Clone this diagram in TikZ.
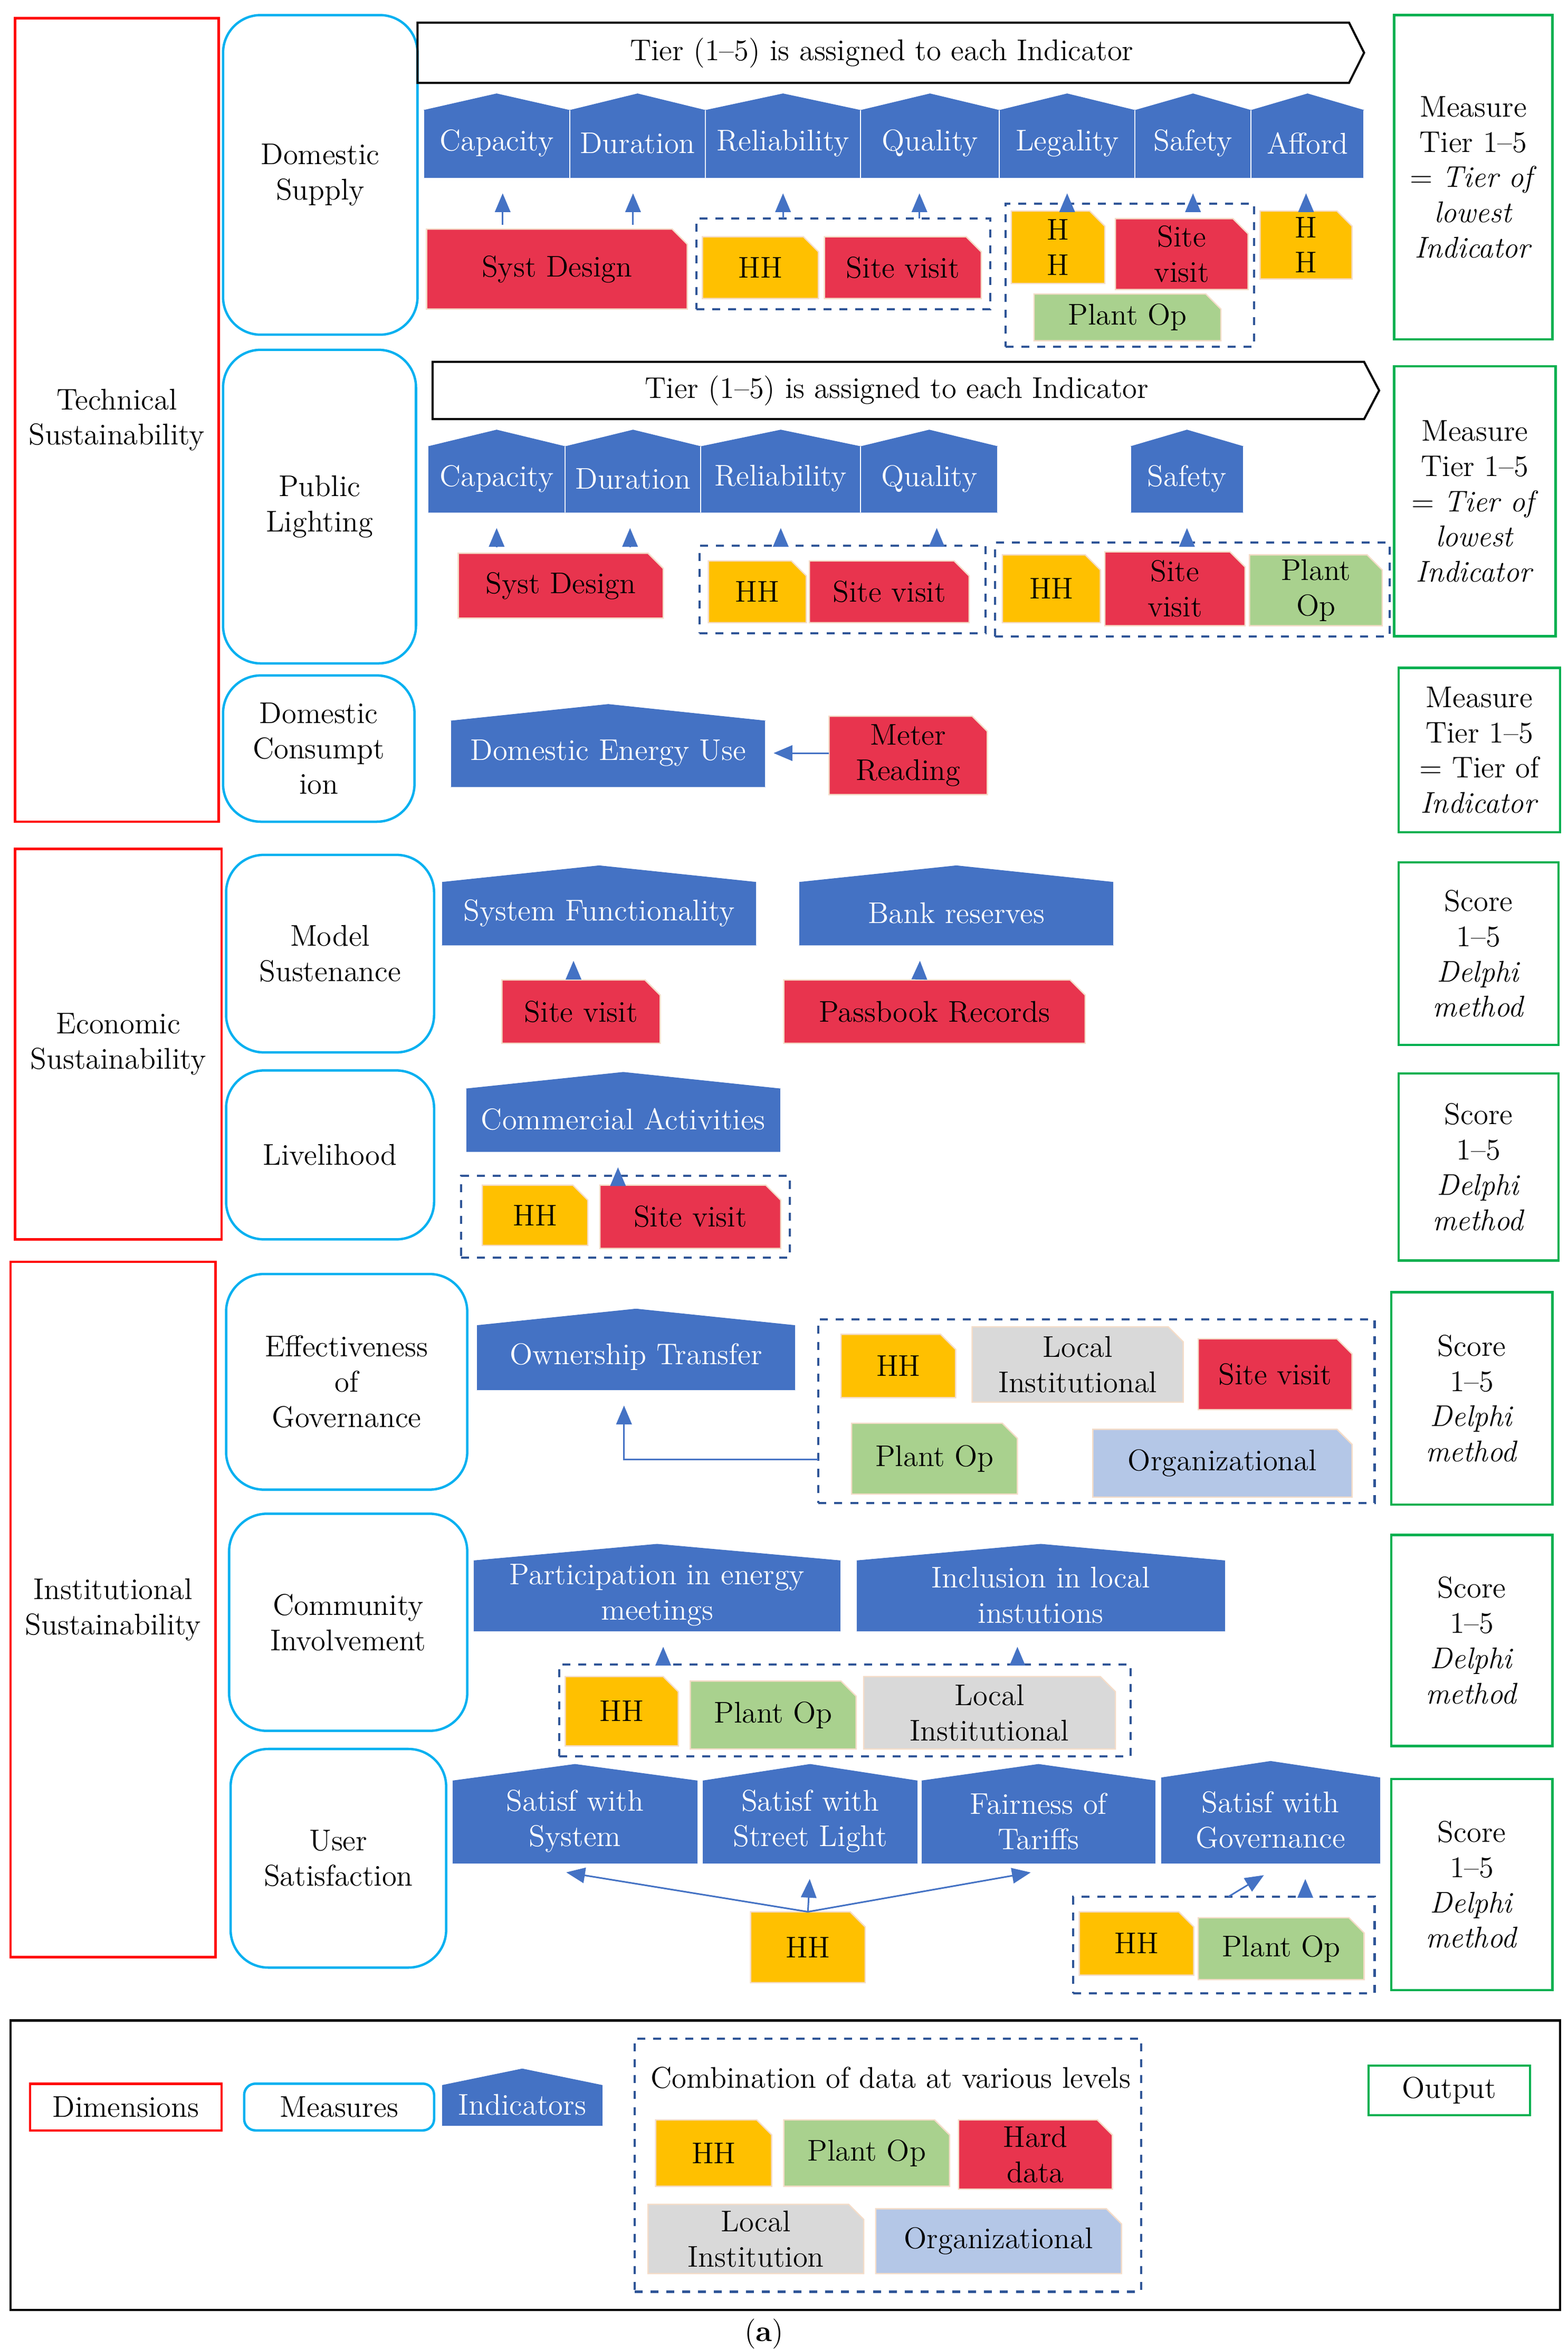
\documentclass[tikz,border=0pt]{standalone}
\usepackage{tikz}
\usetikzlibrary{arrows,calc}

\definecolor{indblue}{HTML}{4472C4}
\definecolor{hhy}{HTML}{FFC000}
\definecolor{svred}{HTML}{E8344E}
\definecolor{opgreen}{HTML}{A9D18E}
\definecolor{ligray}{HTML}{D9D9D9}
\definecolor{orgblue}{HTML}{B4C7E7}
\definecolor{mcyan}{HTML}{00B0F0}
\definecolor{outgreen}{HTML}{00B050}
\definecolor{grpblue}{HTML}{2F5597}
\definecolor{tagedge}{HTML}{F4DCC8}

\newcommand{\dfont}{\fontsize{11.3}{13.3}\selectfont}

\tikzset{
  txt/.style={inner sep=0pt, outer sep=0pt, align=center, font=\dfont},
  indtext/.style={txt, text=white},
  dim/.style={txt, draw=red, line width=0.9pt},
  meas/.style={txt, draw=mcyan, line width=0.9pt, rounded corners=0.5cm},
  outp/.style={txt, draw=outgreen, line width=0.9pt},
  grp/.style={draw=grpblue, dashed, line width=0.8pt, inner sep=0pt, outer sep=0pt},
  arr/.style={-triangle 45, draw=indblue, line width=0.6pt, shorten >=3pt}
}

% box node: style, name, x1, y1, x2, y2, text
\newcommand{\bx}[7]{%
  \node[#1, minimum width={(#5-#3)*0.02cm}, minimum height={(#6-#4)*0.02cm}]
    (#2) at ({(#3+#5)/2},{(#4+#6)/2}) {#7};}
% indicator: name, x1, y1, x2, y2, text
\newcommand{\indic}[6]{%
  \fill[indblue] (#2,#5) -- (#2,#3+11) -- ({(#2+#4)/2},#3) -- (#4,#3+11) -- (#4,#5) -- cycle;
  \draw[white, line width=0.4pt] (#2,#5) -- (#2,#3+11) (#4,#3+11) -- (#4,#5);
  \node[indtext, minimum width={(#4-#2)*0.02cm}, minimum height={(#5-#3)*0.02cm}]
    (#1) at ({(#2+#4)/2},{(#3+#5)/2+5}) {#6};}
% data tag: name, colour, x1, y1, x2, y2, text
\newcommand{\dtag}[7]{%
  \filldraw[fill=#2, draw=tagedge, line width=0.5pt] (#3,#4) -- (#5-10,#4) -- (#5,#4+10) -- (#5,#6) -- (#3,#6) -- cycle;
  \node[txt, minimum width={(#5-#3)*0.02cm}, minimum height={(#6-#4)*0.02cm}]
    (#1) at ({(#3+#5)/2},{(#4+#6)/2}) {#7};}
% dashed group: name, x1, y1, x2, y2
\newcommand{\grpbox}[5]{%
  \node[grp, minimum width={(#4-#2)*0.02cm}, minimum height={(#5-#3)*0.02cm}]
    (#1) at ({(#2+#4)/2},{(#3+#5)/2}) {};}

\begin{document}
\begin{tikzpicture}[x=0.02cm, y=-0.02cm]
\useasboundingbox (0,0) rectangle (1040,1558);

%% Technical
\bx{dim}{tech}{10}{12}{145}{545}{Technical\\Sustainability}
\bx{meas}{dsup}{148}{10}{277}{222}{Domestic\\Supply}
\draw[line width=0.8pt] (277,15) -- (895,15) -- (905,35) -- (895,55) -- (277,55) -- cycle;
\node[txt] (ban1) at (585,35) {Tier (1--5) is assigned to each Indicator};
\indic{cap1}{281}{62}{378}{118}{Capacity}
\indic{dur1}{378}{62}{468}{118}{Duration}
\indic{rel1}{468}{62}{571}{118}{Reliability}
\indic{qua1}{571}{62}{663}{118}{Quality}
\indic{leg1}{663}{62}{753}{118}{Legality}
\indic{saf1}{753}{62}{830}{118}{Safety}
\indic{aff1}{830}{62}{905}{118}{Afford}
\dtag{sd1}{svred}{283}{152}{456}{205}{Syst Design}
\grpbox{ga}{462}{145}{657}{205}
\dtag{hha}{hhy}{466}{157}{543}{198}{HH}
\dtag{sva}{svred}{547}{157}{651}{198}{Site visit}
\grpbox{gb}{667}{135}{832}{230}
\dtag{hhb}{hhy}{671}{140}{733}{188}{H\\H}
\dtag{svb}{svred}{740}{145}{828}{192}{Site\\visit}
\dtag{opb}{opgreen}{686}{195}{810}{226}{Plant Op}
\dtag{hhc}{hhy}{836}{140}{897}{185}{H\\H}
\draw[arr] ($(sd1.north -| cap1)+(4,-3)$) -- ($(cap1.south)+(4,0)$);
\draw[arr] ($(sd1.north -| dur1)+(-3,-3)$) -- ($(dur1.south)+(-3,0)$);
\draw[arr] (ga.north -| rel1) -- (rel1.south);
\draw[arr] ($(ga.north -| qua1)+(-7,0)$) -- ($(qua1.south)+(-7,0)$);
\draw[arr] (gb.north -| leg1) -- (leg1.south);
\draw[arr] (gb.north -| saf1) -- (saf1.south);
\draw[arr] (hhc.north) -- (hhc.north |- aff1.south);
\bx{outp}{o1}{925}{10}{1030}{225}{Measure\\Tier 1--5\\= \textit{Tier of}\\\textit{lowest}\\\textit{Indicator}}

\bx{meas}{plig}{148}{232}{276}{440}{Public\\Lighting}
\draw[line width=0.8pt] (287,240) -- (905,240) -- (915,259) -- (905,278) -- (287,278) -- cycle;
\node[txt] (ban2) at (595,259) {Tier (1--5) is assigned to each Indicator};
\indic{cap2}{284}{285}{375}{340}{Capacity}
\indic{dur2}{375}{285}{465}{340}{Duration}
\indic{rel2}{465}{285}{571}{340}{Reliability}
\indic{qua2}{571}{285}{662}{340}{Quality}
\indic{saf2}{750}{285}{825}{340}{Safety}
\dtag{sd2}{svred}{304}{367}{440}{410}{Syst Design}
\grpbox{gc}{464}{362}{654}{420}
\dtag{hhd}{hhy}{470}{372}{535}{413}{HH}
\dtag{svd}{svred}{537}{372}{643}{413}{Site visit}
\grpbox{gd}{660}{360}{922}{422}
\dtag{hhe}{hhy}{665}{368}{730}{413}{HH}
\dtag{sve}{svred}{733}{366}{826}{415}{Site\\visit}
\dtag{ope}{opgreen}{829}{368}{917}{415}{Plant\\Op}
\draw[arr] ($(sd2.north -| cap2)+(0,-4)$) -- (cap2.south);
\draw[arr] ($(sd2.north -| dur2)+(-2,-4)$) -- ($(dur2.south)+(-2,0)$);
\draw[arr] (gc.north -| rel2) -- (rel2.south);
\draw[arr] ($(gc.north -| qua2)+(5,0)$) -- ($(qua2.south)+(5,0)$);
\draw[arr] (gd.north -| saf2) -- (saf2.south);
\bx{outp}{o2}{925}{243}{1032}{422}{Measure\\Tier 1--5\\= \textit{Tier of}\\\textit{lowest}\\\textit{Indicator}}

\bx{meas}{dcon}{148}{448}{275}{545}{Domestic\\Consumpt\\ion}
\indic{deu}{299}{467}{508}{522}{Domestic Energy Use}
\dtag{mr}{svred}{550}{475}{655}{527}{Meter\\Reading}
\draw[arr] (mr.west |- deu) -- (deu.east);
\bx{outp}{o3}{928}{443}{1035}{552}{Measure\\Tier 1--5\\= Tier of\\\textit{Indicator}}

%% Economic
\bx{dim}{econ}{10}{563}{147}{822}{Economic\\Sustainability}
\bx{meas}{msus}{150}{567}{288}{698}{Model\\Sustenance}
\indic{sysf}{293}{574}{502}{627}{System Functionality}
\dtag{svf}{svred}{333}{650}{438}{692}{Site visit}
\indic{bank}{530}{574}{739}{627}{Bank reserves}
\dtag{pbr}{svred}{520}{650}{720}{692}{Passbook Records}
\draw[arr] ($(svf.north)+(-5,-2)$) -- ($(sysf.south)+(-17,0)$);
\draw[arr] ($(pbr.north)+(-10,-2)$) -- ($(bank.south)+(-24,0)$);
\bx{outp}{o4}{928}{572}{1034}{693}{Score\\1--5\\\textit{Delphi}\\\textit{method}}
\bx{meas}{live}{150}{710}{288}{822}{Livelihood}
\indic{comm}{309}{711}{518}{764}{Commercial Activities}
\grpbox{gf}{306}{780}{524}{834}
\dtag{hhf}{hhy}{320}{786}{390}{826}{HH}
\dtag{svg}{svred}{398}{786}{518}{828}{Site visit}
\draw[arr] (gf.north -| 410,0) -- (comm.south -| 410,0);
\bx{outp}{o5}{928}{712}{1034}{836}{Score\\1--5\\\textit{Delphi}\\\textit{method}}

%% Institutional
\bx{dim}{inst}{7}{837}{143}{1298}{Institutional\\Sustainability}
\bx{meas}{effg}{150}{845}{310}{988}{Effectiveness\\of\\Governance}
\indic{own}{316}{868}{528}{922}{Ownership Transfer}
\grpbox{gg}{543}{875}{912}{997}
\dtag{hhg}{hhy}{558}{885}{634}{927}{HH}
\dtag{lig}{ligray}{645}{880}{785}{930}{Local\\Institutional}
\dtag{svh}{svred}{795}{888}{897}{935}{Site visit}
\dtag{opg}{opgreen}{565}{944}{675}{991}{Plant Op}
\dtag{org}{orgblue}{725}{948}{897}{993}{Organizational}
\draw[arr] ($(gg.west)+(0,32)$) -| ($(own.south)+(-8,0)$);
\bx{outp}{o6}{923}{857}{1030}{998}{Score\\1--5\\\textit{Delphi}\\\textit{method}}

\bx{meas}{cinv}{152}{1004}{310}{1148}{Community\\Involvement}
\indic{part}{314}{1024}{558}{1082}{Participation in energy\\meetings}
\indic{incl}{568}{1024}{813}{1082}{Inclusion in local\\instutions}
\grpbox{gh}{371}{1104}{750}{1165}
\dtag{hhh}{hhy}{375}{1112}{450}{1158}{HH}
\dtag{oph}{opgreen}{458}{1115}{568}{1160}{Plant Op}
\dtag{lih}{ligray}{573}{1112}{740}{1160}{Local\\Institutional}
\draw[arr] (gh.north -| 440,0) -- (part.south -| 440,0);
\draw[arr] (gh.north -| 675,0) -- (incl.south -| 675,0);
\bx{outp}{o7}{923}{1018}{1030}{1158}{Score\\1--5\\\textit{Delphi}\\\textit{method}}

\bx{meas}{usat}{153}{1160}{296}{1305}{User\\Satisfaction}
\indic{sws}{300}{1170}{463}{1236}{Satisf with\\System}
\indic{ssl}{466}{1170}{609}{1236}{Satisf with\\Street Light}
\indic{fot}{611}{1170}{767}{1236}{Fairness of\\Tariffs}
\indic{sgv}{770}{1168}{916}{1236}{Satisf with\\Governance}
\dtag{hhu}{hhy}{498}{1268}{574}{1315}{HH}
\draw[arr] (hhu.north) -- ($(sws.south)+(-11,0)$);
\draw[arr] (hhu.north) -- (ssl.south);
\draw[arr] (hhu.north) -- (fot.south);
\grpbox{gu}{712}{1258}{912}{1322}
\dtag{hhv}{hhy}{716}{1268}{792}{1310}{HH}
\dtag{opv}{opgreen}{795}{1272}{905}{1313}{Plant Op}
\draw[arr] (gu.north -| 815,0) -- (sgv.south);
\draw[arr] (gu.north -| 866,0) -- (sgv.south -| 866,0);
\bx{outp}{o8}{923}{1180}{1030}{1320}{Score\\1--5\\\textit{Delphi}\\\textit{method}}

%% legend
\draw[line width=0.9pt] (7,1340) rectangle (1035,1532);
\bx{dim}{ldim}{20}{1382}{147}{1413}{Dimensions}
\bx{meas, rounded corners=0.15cm}{lmea}{162}{1382}{288}{1413}{Measures}
\indic{lind}{293}{1372}{400}{1410}{Indicators}
\grpbox{gl}{421}{1352}{757}{1520}
\node[txt] (lcomb) at (591,1378) {Combination of data at various levels};
\dtag{lhh}{hhy}{435}{1406}{512}{1450}{HH}
\dtag{lop}{opgreen}{520}{1406}{630}{1450}{Plant Op}
\dtag{lhd}{svred}{636}{1406}{738}{1452}{Hard\\data}
\dtag{lli}{ligray}{430}{1462}{573}{1508}{Local\\Institution}
\dtag{lor}{orgblue}{581}{1465}{744}{1508}{Organizational}
\bx{outp}{lout}{908}{1370}{1015}{1403}{Output}
\node[txt] (cap) at (507,1548) {(\textbf{a})};
\end{tikzpicture}
\end{document}
